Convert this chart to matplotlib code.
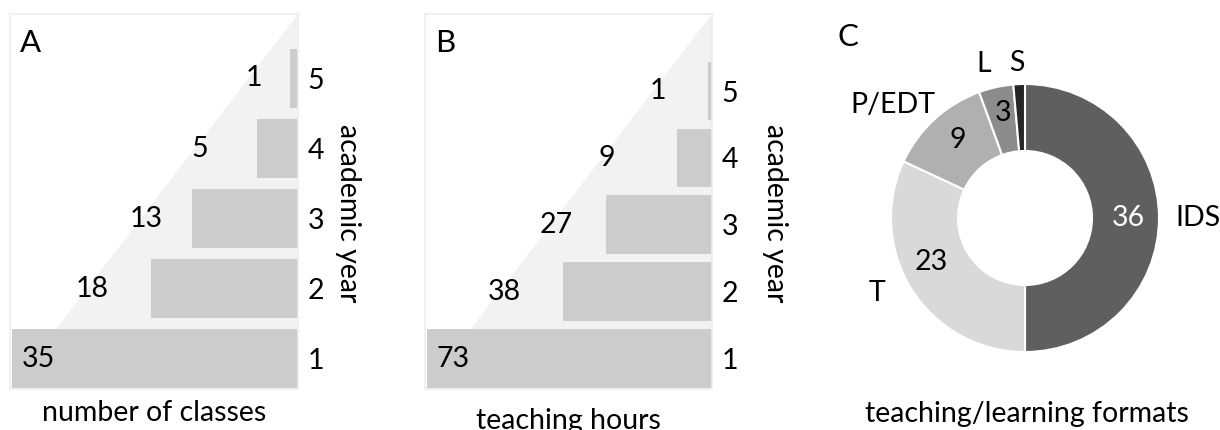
import numpy as np
import matplotlib
matplotlib.use("Agg")
import matplotlib.pyplot as plt
from matplotlib.patches import Polygon

plt.rcParams["font.family"] = ["Lato", "DejaVu Sans"]

# Data
years = [1, 2, 3, 4, 5]
classes = [35, 18, 13, 5, 1]
hours = [73, 38, 27, 9, 1]
formats = ["IDS", "T", "P/EDT", "L", "S"]
format_counts = [36, 23, 9, 3, 1]

W, H = 1220, 430
fig = plt.figure(figsize=(W / 100, H / 100), dpi=100)

FS = 20.5
BAR = "#cccccc"
TRI = "#f2f2f2"


def px_rect(x0, y0, x1, y1):
    # pixel box (top-left origin) -> figure fraction rect
    return [x0 / W, 1 - y1 / H, (x1 - x0) / W, (y1 - y0) / H]


def stair_panel(rect, values, ylim, bar_h, letter, xlabel, xlabel_y, ylabel_x):
    ax = fig.add_axes(px_rect(*rect))
    vmax = max(values)
    ax.set_xlim(vmax * 1.006, 0)
    ax.set_ylim(*ylim)
    ax.add_patch(Polygon([(0, 0), (1, 1), (1, 0)], closed=True, transform=ax.transAxes,
                         facecolor=TRI, edgecolor="none", zorder=0))
    ax.barh(years, values, height=bar_h, color=BAR, zorder=2)
    y0, y1 = ylim
    for yr, v in zip(years, values):
        yf = (yr - y0) / (y1 - y0)
        ax.text(yf + 0.018, yf, str(v), transform=ax.transAxes, ha="center", va="center",
                fontsize=FS, color="black", zorder=3)
    ax.yaxis.tick_right()
    ax.set_yticks(years)
    ax.set_yticklabels([str(y) for y in years], fontsize=FS)
    ax.tick_params(axis="y", length=0, pad=7)
    ax.set_xticks([])
    for s in ax.spines.values():
        s.set_color("#ededed")
        s.set_linewidth(1.2)
    ax.text(0.035, 0.96, letter, transform=ax.transAxes, ha="left", va="top", fontsize=22.5)
    cx = (rect[0] + rect[2]) / 2
    fig.text(cx / W, 1 - xlabel_y / H, xlabel, ha="center", va="center", fontsize=FS)
    fig.text(ylabel_x / W, 1 - ((rect[1] + rect[3]) / 2 + 12) / H, "academic year",
             rotation=-90, ha="center", va="center", fontsize=FS)
    return ax


stair_panel((10, 14, 298, 389), classes, (0.57, 5.92), 0.84, "A",
            "number of classes", 413, 348)
stair_panel((425, 14, 712, 389), hours, (0.55, 6.15), 0.88, "B",
            "teaching hours", 421, 775)

# Panel C: donut
R = 134
cxp, cyp = 1025, 218
half = 185
axc = fig.add_axes(px_rect(cxp - half, cyp - half, cxp + half, cyp + half))
colors = ["#5f5f5f", "#d9d9d9", "#b0b0b0", "#8c8c8c", "#262626"]
wedges, _ = axc.pie(format_counts, colors=colors, startangle=90, counterclock=False,
                    radius=1.0, wedgeprops=dict(width=0.5, edgecolor="white", linewidth=1.5))
lim = half / R
axc.set_xlim(-lim, lim)
axc.set_ylim(-lim, lim)
axc.set_aspect("equal")
axc.axis("off")

# label placement: radius and angular nudge (degrees) per wedge
outer_r = [1.29, 1.24, 1.30, 1.19, 1.16]
outer_da = [0, -5.5, 7, 2.5, 0.5]
inner_r = [0.77, 0.77, 0.77, 0.80, 0.77]
inner_da = [0, -7.5, -1.5, -0.5, 0]
for i, (w, name, n) in enumerate(zip(wedges, formats, format_counts)):
    mid = (w.theta1 + w.theta2) / 2
    a_in = np.deg2rad(mid + inner_da[i])
    a_out = np.deg2rad(mid + outer_da[i])
    if n > 1:
        axc.text(inner_r[i] * np.cos(a_in), inner_r[i] * np.sin(a_in), str(n),
                 ha="center", va="center", fontsize=FS,
                 color="white" if i == 0 else "black")
    axc.text(outer_r[i] * np.cos(a_out), outer_r[i] * np.sin(a_out), name,
             ha="center", va="center", fontsize=FS)

fig.text(848 / W, 1 - 37 / H, "C", ha="center", va="center", fontsize=22.5)
fig.text(1027 / W, 1 - 414 / H, "teaching/learning formats", ha="center", va="center", fontsize=FS)

fig.savefig("out.png", dpi=100)
